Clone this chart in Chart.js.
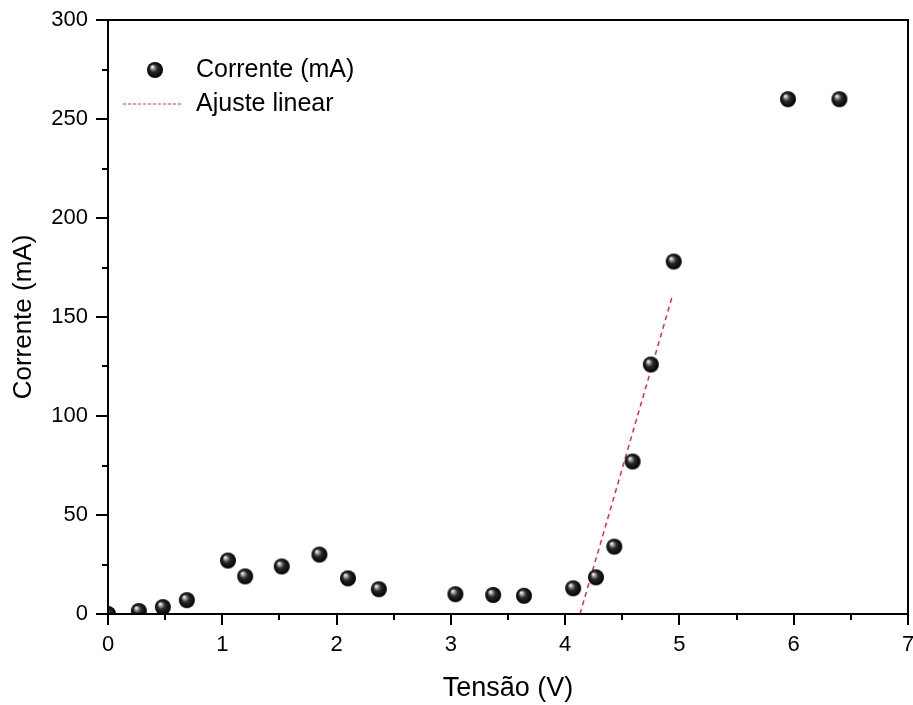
<!DOCTYPE html>
<html>
<head>
<meta charset="utf-8">
<script src="https://cdn.jsdelivr.net/npm/chart.js@4.4.1/dist/chart.umd.min.js"></script>
<style>
  html, body { margin: 0; padding: 0; background: #fff; }
  #wrap { width: 913px; height: 705px; }
</style>
</head>
<body>
<div id="wrap"><canvas id="ivChart" width="913" height="705"></canvas></div>
<script>
// ── Data ────────────────────────────────────────────────────
const tensao   = [0, 0.27, 0.48, 0.69, 1.05, 1.20, 1.52, 1.85, 2.10, 2.37, 3.04, 3.37, 3.64, 4.07, 4.27, 4.43, 4.59, 4.75, 4.95, 5.95, 6.40];
const corrente = [0, 1.5, 3.5, 7, 27, 19, 24, 30, 18, 12.5, 10, 9.6, 9.2, 13, 18.5, 34, 77, 126, 178, 260, 260];
const ajusteX  = [4.13, 4.94];
const ajusteY  = [0, 161];
const xTicks   = [0, 1, 2, 3, 4, 5, 6, 7];
const yTicks   = [0, 50, 100, 150, 200, 250, 300];

const FONT = "'Liberation Sans', Arial, sans-serif";

// ── Shiny sphere marker ────────────────────────────────────
function makeSphere(r) {
    const c = document.createElement('canvas');
    c.width = c.height = r * 2 + 2;
    const g = c.getContext('2d');
    const cx = r + 1, cy = r + 1;
    const grad = g.createRadialGradient(cx - r * 0.35, cy - r * 0.4, 0.5, cx, cy, r);
    grad.addColorStop(0, '#f4f4f4');
    grad.addColorStop(0.18, '#9a9a9a');
    grad.addColorStop(0.45, '#2a2a2a');
    grad.addColorStop(1, '#000');
    g.fillStyle = grad;
    g.beginPath();
    g.arc(cx, cy, r, 0, Math.PI * 2);
    g.fill();
    return c;
}
const sphere = makeSphere(8);

// ── Frame, ticks and legend ────────────────────────────────
const framePlugin = {
    id: 'frame',
    afterDraw(chart) {
        const { ctx, chartArea: a, scales: { x, y } } = chart;
        ctx.save();
        ctx.strokeStyle = '#000';
        ctx.lineWidth = 2;
        ctx.strokeRect(a.left, a.top, a.right - a.left, a.bottom - a.top);

        // x ticks (major 1, minor 0.5)
        for (let v = 0; v <= 7; v += 0.5) {
            const px = Math.round(x.getPixelForValue(v));
            const len = Number.isInteger(v) ? 11 : 6;
            ctx.beginPath();
            ctx.moveTo(px, a.bottom);
            ctx.lineTo(px, a.bottom + len);
            ctx.stroke();
        }
        // y ticks (major 50, minor 25)
        for (let v = 0; v <= 300; v += 25) {
            const py = Math.round(y.getPixelForValue(v));
            const len = v % 50 === 0 ? 12 : 6;
            ctx.beginPath();
            ctx.moveTo(a.left, py);
            ctx.lineTo(a.left - len, py);
            ctx.stroke();
        }

        // legend
        ctx.drawImage(sphere, 155 - 9, 70 - 9);
        ctx.strokeStyle = '#e0303a';
        ctx.lineWidth = 1;
        ctx.setLineDash([3, 2]);
        ctx.beginPath();
        ctx.moveTo(123, 104);
        ctx.lineTo(183, 104);
        ctx.stroke();
        ctx.setLineDash([]);
        ctx.fillStyle = '#000';
        ctx.font = '25px ' + FONT;
        ctx.textBaseline = 'middle';
        ctx.textAlign = 'left';
        ctx.fillText('Corrente (mA)', 196, 70);
        ctx.fillText('Ajuste linear', 196, 104);
        ctx.restore();
    }
};

document.addEventListener('DOMContentLoaded', () => {
    const ctx = document.getElementById('ivChart').getContext('2d');

    new Chart(ctx, {
        type: 'scatter',
        data: {
            datasets: [
                {
                    label: 'Ajuste linear',
                    data: ajusteX.map((v, i) => ({ x: v, y: ajusteY[i] })),
                    showLine: true,
                    borderColor: '#e0303a',
                    borderWidth: 1.5,
                    borderDash: [5, 4],
                    pointRadius: 0,
                    order: 2
                },
                {
                    label: 'Corrente (mA)',
                    data: tensao.map((v, i) => ({ x: v, y: corrente[i] })),
                    pointStyle: sphere,
                    order: 1
                }
            ]
        },
        options: {
            responsive: false,
            animation: false,
            layout: { padding: { top: 20, right: 5, left: 0, bottom: 0 } },
            plugins: {
                legend: { display: false },
                tooltip: { enabled: false }
            },
            scales: {
                x: {
                    type: 'linear',
                    min: 0, max: 7,
                    afterBuildTicks: (s) => { s.ticks = xTicks.map(v => ({ value: v })); },
                    afterFit: (s) => { s.height = 91; s.paddingLeft = 0; s.paddingRight = 0; },
                    grid: { display: false, drawTicks: false },
                    border: { display: false },
                    ticks: { color: '#000', font: { family: FONT, size: 22 }, padding: 18 },
                    title: {
                        display: true,
                        text: 'Tensão (V)',
                        color: '#000',
                        font: { family: FONT, size: 27 },
                        padding: { top: 4, bottom: 0 }
                    }
                },
                y: {
                    type: 'linear',
                    min: 0, max: 300,
                    afterBuildTicks: (s) => { s.ticks = yTicks.map(v => ({ value: v })); },
                    afterFit: (s) => { s.width = 108; s.paddingTop = 0; s.paddingBottom = 0; },
                    grid: { display: false, drawTicks: false },
                    border: { display: false },
                    ticks: { color: '#000', font: { family: FONT, size: 22 }, padding: 20 },
                    title: {
                        display: true,
                        text: 'Corrente (mA)',
                        color: '#000',
                        font: { family: FONT, size: 26 },
                        padding: { top: 8, bottom: 6 }
                    }
                }
            }
        },
        plugins: [framePlugin]
    });
});
</script>
</body>
</html>
